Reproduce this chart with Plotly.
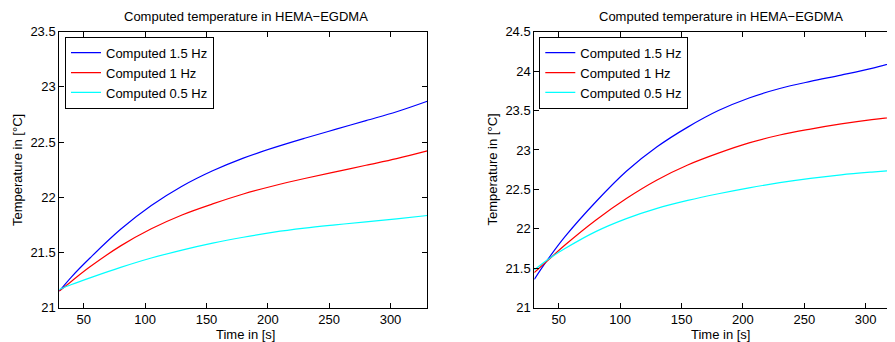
import plotly.graph_objects as go

# ---- data ----
time_s = [30, 40, 55, 80, 105, 130, 155, 180, 205, 230, 255, 280, 305, 330]

left_15hz = [21.15, 21.28, 21.45, 21.71, 21.925, 22.10, 22.24, 22.355, 22.45, 22.535, 22.615, 22.695, 22.775, 22.87]
left_1hz = [21.15, 21.24, 21.37, 21.56, 21.715, 21.84, 21.94, 22.03, 22.105, 22.17, 22.23, 22.29, 22.35, 22.42]
left_05hz = [21.165, 21.21, 21.27, 21.365, 21.45, 21.522, 21.585, 21.638, 21.684, 21.72, 21.75, 21.778, 21.805, 21.835]

right_15hz = [21.36, 21.59, 21.90, 22.34, 22.73, 23.04, 23.29, 23.50, 23.66, 23.78, 23.87, 23.95, 24.035, 24.14]
right_1hz = [21.445, 21.585, 21.795, 22.11, 22.385, 22.62, 22.81, 22.96, 23.09, 23.19, 23.265, 23.33, 23.385, 23.43]
right_05hz = [21.48, 21.60, 21.75, 21.965, 22.13, 22.26, 22.36, 22.445, 22.52, 22.585, 22.64, 22.685, 22.72, 22.75]

series_names = ["Computed 1.5 Hz", "Computed 1 Hz", "Computed 0.5 Hz"]
series_colors = ["#0000ff", "#ff0000", "#00ffff"]

title_text = "Computed temperature in HEMA\u2212EGDMA"
x_label = "Time in [s]"
y_label = "Temperature in [\u00b0C]"

W, H = 895, 342
OFF = 8  # page body margin offset
FONT = "Liberation Sans, Arial, sans-serif"

fig = go.Figure()

for ys, name, col in zip([left_15hz, left_1hz, left_05hz], series_names, series_colors):
    fig.add_trace(go.Scatter(x=time_s, y=ys, mode="lines", name=name,
                             line=dict(color=col, width=1.2, shape="spline", smoothing=1.0),
                             xaxis="x", yaxis="y", legend="legend"))
for ys, name, col in zip([right_15hz, right_1hz, right_05hz], series_names, series_colors):
    fig.add_trace(go.Scatter(x=time_s, y=ys, mode="lines", name=name,
                             line=dict(color=col, width=1.2, shape="spline", smoothing=1.0),
                             xaxis="x2", yaxis="y2", legend="legend2"))

# pixel geometry (window pixels)
L1, R1 = 59.3, 427.3
L2, R2 = 534.3, 902.5
TOP, BOT = 31.7, 307.7

def px(v):
    return (v - OFF) / W

def py(v):
    return 1 - (v - OFF) / H

common_axis = dict(showgrid=False, zeroline=False, showline=True, linecolor="black",
                   linewidth=1, ticks="inside", ticklen=5, tickcolor="black",
                   automargin=False, mirror="ticks",
                   tickfont=dict(family=FONT, size=13, color="black"))

fig.update_layout(
    template="none",
    width=W, height=H,
    margin=dict(l=0, r=0, t=0, b=0, pad=0, autoexpand=False),
    paper_bgcolor="white", plot_bgcolor="white",
    showlegend=True,
    xaxis=dict(domain=[px(L1), px(R1)], range=[30, 330], dtick=50, tick0=0,
               anchor="y", **common_axis),
    yaxis=dict(domain=[py(BOT), py(TOP)], range=[21, 23.5], dtick=0.5, tick0=21,
               anchor="x", **common_axis),
    xaxis2=dict(domain=[px(L2), min(1.0, px(R2))], range=[30, 330], dtick=50, tick0=0,
                anchor="y2", **common_axis),
    yaxis2=dict(domain=[py(BOT), py(TOP)], range=[21, 24.5], dtick=0.5, tick0=21,
                anchor="x2", **common_axis),
    legend=dict(x=px(65), y=py(36.7), xanchor="left", yanchor="top",
                bgcolor="white", bordercolor="black", borderwidth=1,
                font=dict(family=FONT, size=13, color="black"),
                tracegroupgap=0, itemwidth=30),
    legend2=dict(x=px(539.3), y=py(36.7), xanchor="left", yanchor="top",
                 bgcolor="white", bordercolor="black", borderwidth=1,
                 font=dict(family=FONT, size=13, color="black"),
                 tracegroupgap=0, itemwidth=30),
)

ann_font = dict(family=FONT, size=13, color="black")
annotations = [
    dict(text=title_text, x=px(246), y=py(16), xref="paper", yref="paper",
         showarrow=False, font=ann_font, xanchor="center", yanchor="middle"),
    dict(text=title_text, x=px(720.5), y=py(16), xref="paper", yref="paper",
         showarrow=False, font=ann_font, xanchor="center", yanchor="middle"),
    dict(text=x_label, x=px(245), y=py(334.5), xref="paper", yref="paper",
         showarrow=False, font=ann_font, xanchor="center", yanchor="middle"),
    dict(text=x_label, x=px(720), y=py(334.5), xref="paper", yref="paper",
         showarrow=False, font=ann_font, xanchor="center", yanchor="middle"),
    dict(text=y_label, x=px(18), y=py(170), xref="paper", yref="paper", textangle=-90,
         showarrow=False, font=ann_font, xanchor="center", yanchor="middle"),
    dict(text=y_label, x=px(492.5), y=py(170), xref="paper", yref="paper", textangle=-90,
         showarrow=False, font=ann_font, xanchor="center", yanchor="middle"),
]
fig.update_layout(annotations=annotations)

fig.write_html("out.html")
